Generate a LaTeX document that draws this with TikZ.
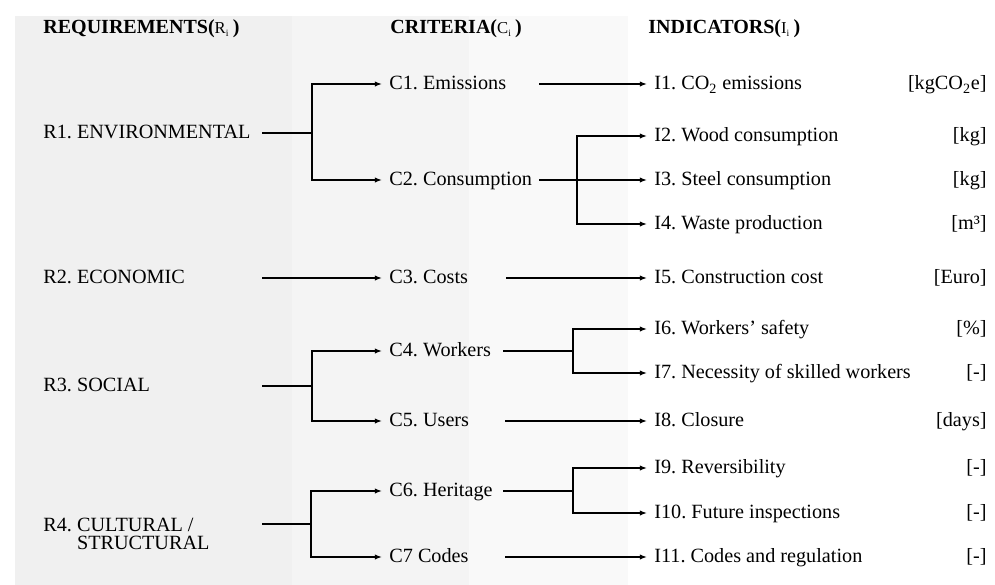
\documentclass[tikz,border=0pt]{standalone}
\usepackage{fontspec}
\setmainfont{Liberation Serif}
\usetikzlibrary{arrows.meta}
\frenchspacing
\newcommand{\sub}[1]{{\fontsize{9.5}{10}\mdseries\selectfont #1}\textsubscript{\fontsize{5.5}{6}\mdseries\selectfont i}\,}
\tikzset{
  lbl/.style={anchor=west, inner xsep=4pt, inner ysep=0pt, text height=1.45ex, text depth=0pt},
  unit/.style={anchor=east, inner sep=0pt, text height=1.45ex, text depth=0pt},
  head/.style={anchor=west, inner sep=0pt, text height=1.45ex, text depth=0pt, font=\fontsize{11.4}{12}\bfseries\selectfont},
  tie/.style={line width=0.8pt},
  link/.style={line width=0.8pt, -{Latex[length=4pt,width=3pt]}}
}

\begin{document}
\begin{tikzpicture}[x=0.02cm, y=-0.02cm, font=\fontsize{11.5}{12}\selectfont]
\useasboundingbox (0,0) rectangle (995,585);
\fill[black!6] (15,16) rectangle (292,585);
\fill[black!4.5] (292,16) rectangle (469,585);
\fill[black!2.5] (469,16) rectangle (628,585);

\node[head] (hr) at (43,28) {REQUIREMENTS(\sub{R})};
\node[head] (hc) at (390,28) {CRITERIA(\sub{C})};
\node[head] (hi) at (648,28) {INDICATORS(\sub{I})};

\node[lbl, inner xsep=0pt] (r1) at (43,133) {R1. ENVIRONMENTAL};
\node[lbl, inner xsep=0pt] (r2) at (43,278) {R2. ECONOMIC};
\node[lbl, inner xsep=0pt] (r3) at (43,386) {R3. SOCIAL};
\node[anchor=base west, inner sep=0pt, align=left, font=\fontsize{11.5}{10}\selectfont] (r4) at (43,549)
  {R4. CULTURAL /\\\hphantom{R4. }STRUCTURAL};

\node[lbl] (c1) at (382,84) {C1. Emissions};
\node[lbl] (c2) at (382,180) {C2. Consumption};
\node[lbl] (c3) at (382,278) {C3. Costs};
\node[lbl] (c4) at (382,351) {C4. Workers};
\node[lbl] (c5) at (382,421) {C5. Users};
\node[lbl] (c6) at (382,491) {C6. Heritage};
\node[lbl] (c7) at (382,557) {C7 Codes};

\node[lbl] (i1) at (647,84) {I1. CO\textsubscript{2} emissions};
\node[lbl] (i2) at (647,136) {I2. Wood consumption};
\node[lbl] (i3) at (647,180) {I3. Steel consumption};
\node[lbl] (i4) at (647,224) {I4. Waste production};
\node[lbl] (i5) at (647,278) {I5. Construction cost};
\node[lbl] (i6) at (647,329) {I6. Workers’ safety};
\node[lbl] (i7) at (647,373) {I7. Necessity of skilled workers};
\node[lbl] (i8) at (647,421) {I8. Closure};
\node[lbl] (i9) at (647,468) {I9. Reversibility};
\node[lbl] (i10) at (647,513) {I10. Future inspections};
\node[lbl] (i11) at (647,557) {I11. Codes and regulation};

\node[unit] (u1) at (987,84) {[kgCO\textsubscript{2}e]};
\node[unit] (u2) at (987,136) {[kg]};
\node[unit] (u3) at (987,180) {[kg]};
\node[unit] (u4) at (987,224) {[m³]};
\node[unit] (u5) at (987,278) {[Euro]};
\node[unit] (u6) at (987,329) {[\%]};
\node[unit] (u7) at (987,373) {[-]};
\node[unit] (u8) at (987,421) {[days]};
\node[unit] (u9) at (987,468) {[-]};
\node[unit] (u10) at (987,513) {[-]};
\node[unit] (u11) at (987,557) {[-]};

\coordinate (b1) at (312,133);
\coordinate (b3) at (312,386);
\coordinate (b4) at (311,524);
\coordinate (d2) at (577,180);
\coordinate (d4) at (573,351);
\coordinate (d6) at (573,491);

\draw[tie] (r1 -| 262,0) -- (b1);
\draw[link] (b1) |- (c1);
\draw[link] (b1) |- (c2);
\draw[link] (r2 -| 262,0) -- (c3);
\draw[tie] (r3 -| 262,0) -- (b3);
\draw[link] (b3) |- (c4);
\draw[link] (b3) |- (c5);
\draw[tie] (262,524) -- (b4);
\draw[link] (b4) |- (c6);
\draw[link] (b4) |- (c7);

\draw[link] (c1 -| 539,0) -- (i1);
\draw[link] (c2 -| 539,0) -- (i3);
\draw[link] (d2) |- (i2);
\draw[link] (d2) |- (i4);
\draw[link] (c3 -| 506,0) -- (i5);
\draw[tie] (c4 -| 503,0) -- (d4);
\draw[link] (d4) |- (i6);
\draw[link] (d4) |- (i7);
\draw[link] (c5 -| 505,0) -- (i8);
\draw[tie] (c6 -| 503,0) -- (d6);
\draw[link] (d6) |- (i9);
\draw[link] (d6) |- (i10);
\draw[link] (c7 -| 505,0) -- (i11);
\end{tikzpicture}
\end{document}
